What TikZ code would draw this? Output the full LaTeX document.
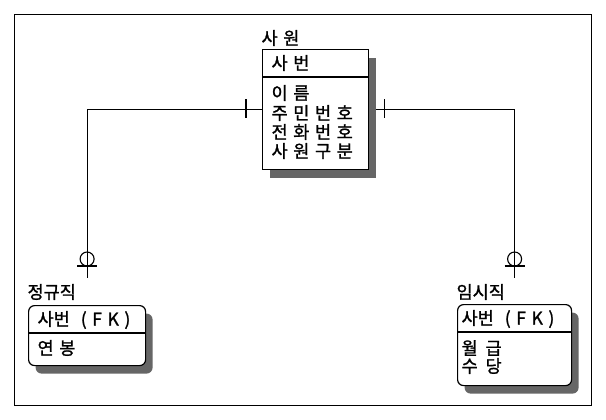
\documentclass[tikz,border=0pt]{standalone}
\usepackage{fontspec}
\newfontfamily\kr[FakeBold=1.3]{Noto Sans CJK KR}
\usetikzlibrary{calc,shadows,backgrounds}
\newcommand{\lsp}[1]{{\addfontfeature{LetterSpace=32}#1}}
\begin{document}
\begin{tikzpicture}[x=1pt,y=-1pt,line width=1.2pt,
  font=\kr\fontsize{17.5}{20}\selectfont,
  shade/.style={drop shadow={shadow xshift=7pt,shadow yshift=-8pt,fill=black!60,opacity=1}},
  entity/.style={draw,fill=white,inner sep=0pt,anchor=north west,shade},
  rentity/.style={entity,rounded corners=6pt},
  txt/.style={anchor=west,inner sep=0pt},
  tick/.style={line width=1.1pt}]
\useasboundingbox (0,0) rectangle (606,420);
\draw[line width=0.9pt] (14,14) rectangle (591,405);

% main entity
\node[entity,minimum width=106pt,minimum height=120pt] (emp) at (262,49) {};
\draw (emp.west |- 0,77) -- (emp.east |- 0,77);
\node[txt] (empt) at (261,38) {\lsp{사원}};
\node[txt] (k1) at (271,63) {\lsp{사번}};
\node[txt] (a1) at (271,93) {\lsp{이름}};
\node[txt] (a2) at (271,113) {\lsp{주민번호}};
\node[txt] (a3) at (271,132) {\lsp{전화번호}};
\node[txt] (a4) at (271,151) {\lsp{사원구분}};

% child entity left
\node[rentity,minimum width=117pt,minimum height=60pt] (reg) at (28,305) {};
\draw (reg.west |- 0,333) -- (reg.east |- 0,333);
\node[txt] (regt) at (27,292) {정규직};
\node[txt] (rk) at (37,320) {사번\hspace{11pt}\lsp{(FK)}};
\node[txt] (ra) at (37,348) {\lsp{연봉}};

% child entity right
\node[rentity,minimum width=114pt,minimum height=81pt] (tmp) at (457,304) {};
\draw (tmp.west |- 0,332) -- (tmp.east |- 0,332);
\node[txt] (tmpt) at (456,292) {임시직};
\node[txt] (tk) at (461,319) {사번\hspace{11pt}\lsp{(FK)}};
\node[txt] (ta) at (461,348) {월\ \ 급};
\node[txt] (tb) at (461,366) {수\ \ 당};

\coordinate (regend) at ($(reg.north)+(0,-27)$);
\coordinate (tmpend) at ($(tmp.north)+(0,-26)$);

\begin{pgfonlayer}{background}
\draw (emp.west |- 0,109) -| (regend);
\draw (emp.east |- 0,109) -| (tmpend);
\end{pgfonlayer}

% relationship symbols
\draw[tick] ($(emp.west |- 0,109)+(-16,-9.5)$) -- ++(0,19);
\draw[tick] ($(emp.east |- 0,109)+(15,-9.5)$) -- ++(0,19);
\draw[tick] ($(regend)+(0,-19)$) circle (7);
\draw[tick] ($(regend)+(-10,-12)$) -- ++(20,0);
\draw[tick] ($(tmpend)+(0,-19)$) circle (7);
\draw[tick] ($(tmpend)+(-10,-12)$) -- ++(20,0);
\end{tikzpicture}
\end{document}
